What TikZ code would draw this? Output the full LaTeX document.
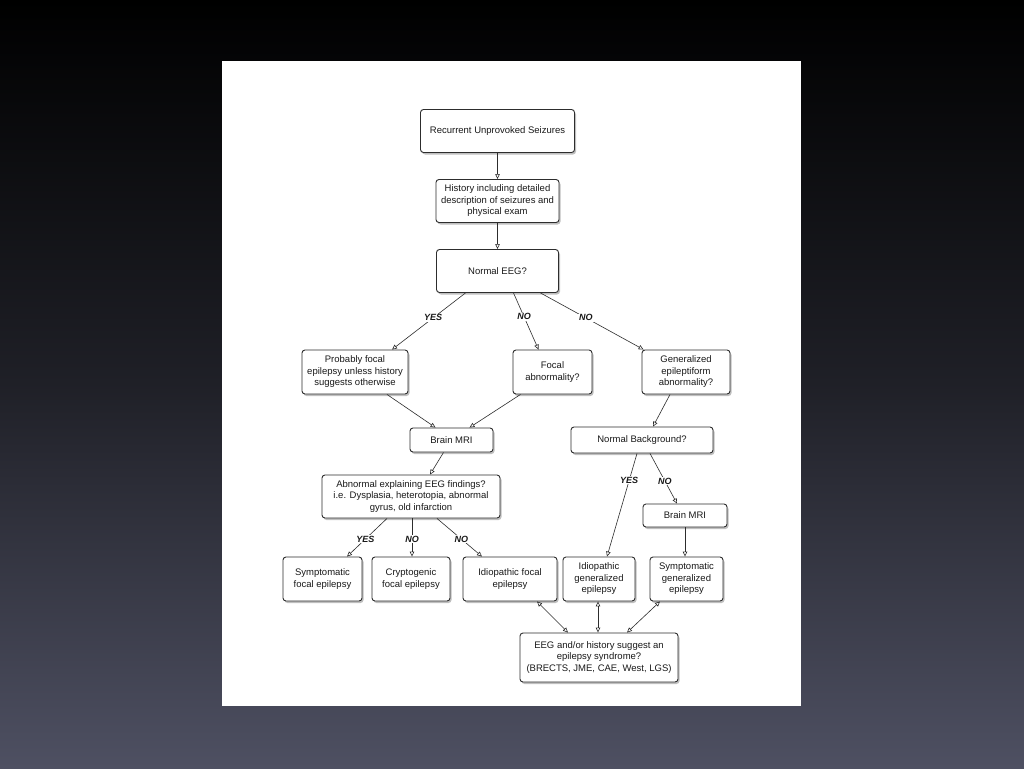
\documentclass[tikz,border=0pt]{standalone}
\usepackage{fontspec}
\setmainfont{Liberation Sans}
\usetikzlibrary{arrows.meta, shadows, calc}

\definecolor{slidebottom}{RGB}{78,80,98}
\definecolor{edgegray}{RGB}{45,45,45}

\begin{document}
\begin{tikzpicture}[
    x=1pt, y=-1pt,
    >={Triangle[open, length=5pt, width=4.5pt]},
    every node/.style={font=\fontsize{9.5}{11.5}\selectfont, text=black!90},
    box/.style={draw=edgegray, line width=0.9pt, fill=white, rounded corners=3pt, align=center, inner sep=1pt,
        drop shadow={opacity=0.5, shadow xshift=1.5pt, shadow yshift=-2pt}},
    link/.style={->, draw=edgegray, line width=0.6pt},
    answer/.style={fill=white, inner sep=1pt, font=\fontsize{9}{10}\selectfont\bfseries\itshape}
]

% Slide background and page
\shade[top color=black, bottom color=slidebottom, middle color=black!60!slidebottom] (0,0) rectangle (1024,768);
\fill[white] (222,61) rectangle (801,706);

% Top of the chart
\node[box, minimum width=154pt, minimum height=43pt] (seizures) at (497.5,131) {Recurrent Unprovoked Seizures};
\node[box, minimum width=123pt, minimum height=43pt] (history) at (497.5,201) {History including detailed\\description of seizures and\\physical exam};
\node[box, minimum width=122pt, minimum height=43pt] (eeg) at (497.5,271) {Normal EEG?};

% Second row
\node[box, minimum width=106pt, minimum height=44pt] (probfocal) at (355,372) {Probably focal\\epilepsy unless history\\suggests otherwise};
\node[box, minimum width=79pt, minimum height=44pt] (focalabn) at (552.5,372) {Focal\\abnormality?};
\node[box, minimum width=88pt, minimum height=44pt] (genabn) at (686,372) {Generalized\\epileptiform\\abnormality?};

% Third row
\node[box, minimum width=83pt, minimum height=24pt] (mrileft) at (451.5,440) {Brain MRI};
\node[box, minimum width=142pt, minimum height=26pt] (background) at (642,440) {Normal Background?};
\node[box, minimum width=178pt, minimum height=43pt] (explain) at (411,496.5) {Abnormal explaining EEG findings?\\i.e. Dysplasia, heterotopia, abnormal\\gyrus, old infarction};
\node[box, minimum width=84pt, minimum height=23pt] (mriright) at (685,515.5) {Brain MRI};

% Diagnoses
\node[box, minimum width=79pt, minimum height=44pt] (sympfocal) at (322.5,579) {Symptomatic\\focal epilepsy};
\node[box, minimum width=78pt, minimum height=44pt] (cryptfocal) at (411,579) {Cryptogenic\\focal epilepsy};
\node[box, minimum width=94pt, minimum height=44pt] (idiofocal) at (510,579) {Idiopathic focal\\epilepsy};
\node[box, minimum width=72pt, minimum height=44pt] (idiogen) at (599,579) {Idiopathic\\generalized\\epilepsy};
\node[box, minimum width=73pt, minimum height=44pt] (sympgen) at (686.5,579) {Symptomatic\\generalized\\epilepsy};
\node[box, minimum width=158pt, minimum height=49pt] (syndrome) at (599,657.5) {EEG and/or history suggest an\\epilepsy syndrome?\\(BRECTS, JME, CAE, West, LGS)};

% Connectors
\draw[link] (seizures) -- (history);
\draw[link] (history) -- (eeg);
\draw[link] ([xshift=-32pt]eeg.south) -- node[answer, pos=0.44] {YES} ([xshift=37pt]probfocal.north);
\draw[link] ([xshift=16pt]eeg.south) -- node[answer, pos=0.42] {NO} ([xshift=-14pt]focalabn.north);
\draw[link] ([xshift=43pt]eeg.south) -- node[answer, pos=0.44] {NO} ([xshift=2pt]genabn.north west);
\draw[link] ([xshift=32pt]probfocal.south) -- ([xshift=-16pt]mrileft.north);
\draw[link] ([xshift=-32pt]focalabn.south) -- ([xshift=18pt]mrileft.north);
\draw[link] ([xshift=-16pt]genabn.south) -- ([xshift=11pt]background.north);
\draw[link] ([xshift=-8pt]mrileft.south) -- ([xshift=19pt]explain.north);
\draw[link] ([xshift=-5pt]background.south) -- node[answer, pos=0.26] {YES} ([xshift=8pt]idiogen.north);
\draw[link] ([xshift=8pt]background.south) -- node[answer, pos=0.55] {NO} ([xshift=-8pt]mriright.north);
\draw[link] (mriright.south) -- (mriright.south |- sympgen.north);
\draw[link] ([xshift=-24pt]explain.south) -- node[answer, pos=0.54] {YES} ([xshift=24.5pt]sympfocal.north);
\draw[link] ([xshift=1pt]explain.south) -- node[answer, pos=0.54] {NO} ([xshift=1pt]cryptfocal.north);
\draw[link] ([xshift=26pt]explain.south) -- node[answer, pos=0.54] {NO} ([xshift=-28pt]idiofocal.north);
\draw[link, <->] ([xshift=-31pt]syndrome.north) -- ([xshift=27pt]idiofocal.south);
\draw[link, <->] ([xshift=-1pt]syndrome.north) -- ([xshift=-1pt]idiogen.south);
\draw[link, <->] ([xshift=28pt]syndrome.north) -- ([xshift=-26.5pt]sympgen.south);

\end{tikzpicture}
\end{document}
